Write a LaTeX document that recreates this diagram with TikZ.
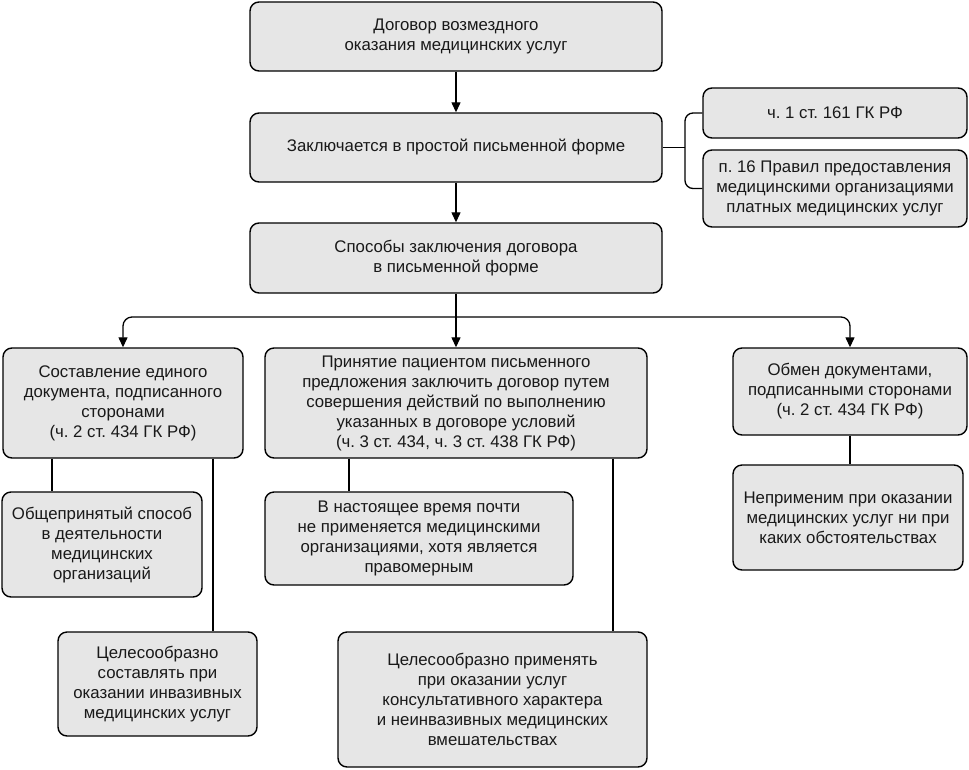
\documentclass[tikz,border=0pt]{standalone}
\usepackage{fontspec}
\setmainfont{Liberation Sans}
\frenchspacing
\usetikzlibrary{arrows.meta,calc}
\definecolor{boxfill}{RGB}{230,230,230}
\definecolor{txt}{RGB}{25,25,25}
\tikzset{
  box/.style={draw=black, line width=1.4pt, fill=boxfill, rounded corners=9pt,
    align=center, inner sep=0pt, text=txt, font=\fontsize{16.8}{20}\selectfont},
  conn/.style={draw=black, line width=1.3pt},
  arr/.style={conn, -{Triangle[length=10pt,width=9pt]}}
}
\newcommand{\bx}[6]{\node[box, minimum width={#4-#2}, minimum height={#5-#3}] (#1) at ({(#2+#4)/2},{(#3+#5)/2}) {#6};}
\begin{document}
\begin{tikzpicture}[x=1pt,y=-1pt]
\useasboundingbox (0,0) rectangle (969,769);
\bx{b1}{250}{2}{662}{71}{Договор возмездного\\оказания медицинских услуг}
\bx{b2}{250}{113}{662}{182}{Заключается в простой письменной форме}
\bx{b3}{250}{223}{662}{293}{Способы заключения договора\\в письменной форме}
\bx{r1}{703}{88}{967}{138}{ч. 1 ст. 161 ГК РФ}
\bx{r2}{703}{150}{967}{227}{п. 16 Правил предоставления\\медицинскими организациями\\платных медицинских услуг}
\bx{bL}{3}{348}{243}{458}{Составление единого\\документа, подписанного\\сторонами\\(ч. 2 ст. 434 ГК РФ)}
\bx{bM}{265}{348}{647}{458}{Принятие пациентом письменного\\предложения заключить договор путем\\совершения действий по выполнению\\указанных в договоре условий\\(ч. 3 ст. 434, ч. 3 ст. 438 ГК РФ)}
\bx{bR}{733}{348}{967}{435}{Обмен документами,\\подписанными сторонами\\(ч. 2 ст. 434 ГК РФ)}
\bx{o1}{2}{492}{202}{597}{Общепринятый способ\\в деятельности\\медицинских\\организаций}
\bx{c1}{58}{632}{257}{736}{Целесообразно\\составлять при\\оказании инвазивных\\медицинских услуг}
\bx{vn}{265}{492}{573}{585}{В настоящее время почти\\не применяется медицинскими\\организациями, хотя является\\правомерным}
\bx{c2}{338}{632}{647}{767}{Целесообразно применять\\при оказании услуг\\консультативного характера\\и неинвазивных медицинских\\вмешательствах}
\bx{np}{733}{465}{963}{570}{Неприменим при оказании\\медицинских услуг ни при\\каких обстоятельствах}
% main chain
\draw[arr] (b1.south -| 456,0) -- (b2.north -| 456,0);
\draw[arr] (b2.south -| 456,0) -- (b3.north -| 456,0);
% right bracket
\coordinate (k) at (685,147.5);
\draw[conn] (b2.east) -- (k);
\draw[conn, rounded corners=8pt] (r1.west) -| (k) |- (r2.west);
% branching
\coordinate (j) at (456,317);
\draw[arr] (b3.south -| j) -- (bM.north -| j);
\draw[arr, rounded corners=9pt] (j) -| (bL.north);
\draw[arr, rounded corners=9pt] (j) -| (bR.north);
% lower links
\coordinate (xa) at (52,0);
\coordinate (xb) at (213,0);
\coordinate (xc) at (349,0);
\coordinate (xd) at (613,0);
\coordinate (xe) at (850,0);
\draw[conn] (bL.south -| xa) -- (o1.north -| xa);
\draw[conn] (bL.south -| xb) -- (c1.north -| xb);
\draw[conn] (bM.south -| xc) -- (vn.north -| xc);
\draw[conn] (bM.south -| xd) -- (c2.north -| xd);
\draw[conn] (bR.south -| xe) -- (np.north -| xe);
\end{tikzpicture}
\end{document}
